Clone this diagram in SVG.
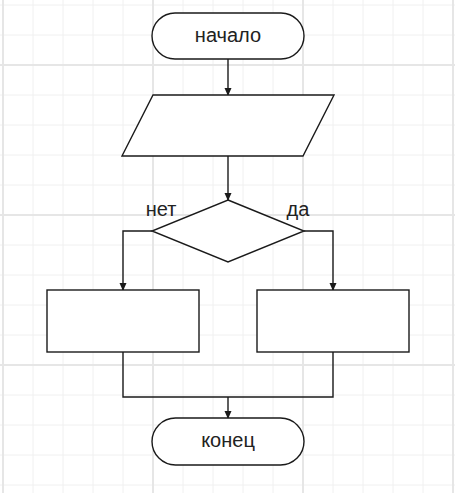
<svg xmlns="http://www.w3.org/2000/svg" width="455" height="493" viewBox="0 0 455 493">
<style>
.minor{stroke:#f0f0f0;stroke-width:1}
.major{stroke:#e6e6e6;stroke-width:2}
.shape{fill:#ffffff;stroke:#1a1a1a;stroke-width:1.4}
.conn{fill:none;stroke:#1a1a1a;stroke-width:1.4}
.label{font-family:"Liberation Sans",Arial,sans-serif;font-size:20px;fill:#222222;text-anchor:middle}
</style>
<defs>
<marker id="arr" markerWidth="8" markerHeight="10" refX="7" refY="3.5" orient="auto" markerUnits="userSpaceOnUse" viewBox="0 0 8 7">
<path d="M0,0 L8,3.5 L0,7 Z" fill="#1a1a1a"/>
</marker>
</defs>
<rect width="455" height="493" fill="#ffffff"/>
<g id="grid">
<g class="minor">
<line x1="33" y1="0" x2="33" y2="493"/><line x1="63" y1="0" x2="63" y2="493"/><line x1="93" y1="0" x2="93" y2="493"/><line x1="123" y1="0" x2="123" y2="493"/>
<line x1="183" y1="0" x2="183" y2="493"/><line x1="213" y1="0" x2="213" y2="493"/><line x1="243" y1="0" x2="243" y2="493"/><line x1="273" y1="0" x2="273" y2="493"/>
<line x1="333" y1="0" x2="333" y2="493"/><line x1="363" y1="0" x2="363" y2="493"/><line x1="393" y1="0" x2="393" y2="493"/><line x1="423" y1="0" x2="423" y2="493"/>
<line x1="0" y1="5" x2="455" y2="5"/><line x1="0" y1="35" x2="455" y2="35"/><line x1="0" y1="95" x2="455" y2="95"/><line x1="0" y1="125" x2="455" y2="125"/>
<line x1="0" y1="155" x2="455" y2="155"/><line x1="0" y1="185" x2="455" y2="185"/><line x1="0" y1="245" x2="455" y2="245"/><line x1="0" y1="275" x2="455" y2="275"/>
<line x1="0" y1="305" x2="455" y2="305"/><line x1="0" y1="335" x2="455" y2="335"/><line x1="0" y1="395" x2="455" y2="395"/><line x1="0" y1="425" x2="455" y2="425"/>
<line x1="0" y1="455" x2="455" y2="455"/><line x1="0" y1="485" x2="455" y2="485"/>
</g>
<g class="major">
<line x1="3" y1="0" x2="3" y2="493"/><line x1="153" y1="0" x2="153" y2="493"/><line x1="303" y1="0" x2="303" y2="493"/><line x1="453" y1="0" x2="453" y2="493"/>
<line x1="0" y1="65" x2="455" y2="65"/><line x1="0" y1="215" x2="455" y2="215"/><line x1="0" y1="365" x2="455" y2="365"/>
</g>
</g>
<g id="connectors">
<line class="conn" x1="228" y1="59" x2="228" y2="95" marker-end="url(#arr)"/>
<line class="conn" x1="228" y1="156" x2="228" y2="200" marker-end="url(#arr)"/>
<polyline class="conn" points="152,231 123,231 123,290" marker-end="url(#arr)"/>
<polyline class="conn" points="304,231 333,231 333,290" marker-end="url(#arr)"/>
<polyline class="conn" points="123,352 123,397 333,397 333,352"/>
<line class="conn" x1="228" y1="397" x2="228" y2="418" marker-end="url(#arr)"/>
<text class="label" x="161" y="216">нет</text>
<text class="label" x="298" y="216">да</text>
</g>
<g id="start">
<rect class="shape" x="152" y="13" width="152" height="46" rx="23" ry="23"/>
<text class="label" x="228" y="42">начало</text>
</g>
<g id="input">
<polygon class="shape" points="153,95 334,95 303,156 122,156"/>
</g>
<g id="decision">
<polygon class="shape" points="228,200 304,231 228,262 152,231"/>
</g>
<g id="left-process">
<rect class="shape" x="47" y="290" width="152" height="62"/>
</g>
<g id="right-process">
<rect class="shape" x="257" y="290" width="152" height="62"/>
</g>
<g id="end">
<rect class="shape" x="152" y="418" width="152" height="47" rx="23.5" ry="23.5"/>
<text class="label" x="228" y="447">конец</text>
</g>
</svg>
